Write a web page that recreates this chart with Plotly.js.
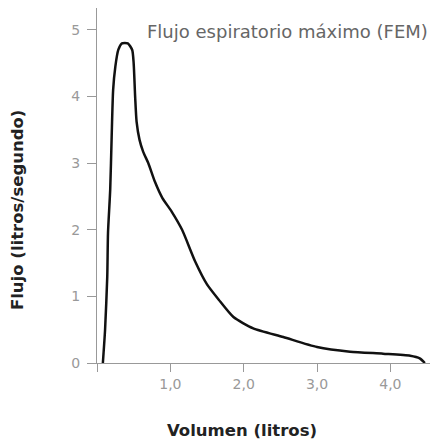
<!DOCTYPE html>
<html>
<head>
<meta charset="utf-8">
<script src="https://cdn.plot.ly/plotly-3.0.1.min.js"></script>
<style>html,body{margin:0;padding:0;background:#fff;}#chart{width:434px;height:443px;}</style>
</head>
<body>
<div id="chart"></div>
<script>
var volumen = [0.08, 0.11, 0.14, 0.15, 0.18, 0.20, 0.22, 0.25, 0.29, 0.34, 0.42, 0.48, 0.50, 0.52, 0.54, 0.58, 0.63, 0.70, 0.79, 0.89, 1.02, 1.16, 1.34, 1.50, 1.66, 1.86, 2.13, 2.54, 3.00, 3.45, 3.90, 4.27, 4.40, 4.47];
var flujo   = [0.00, 0.50, 1.30, 1.95, 2.60, 3.40, 4.10, 4.45, 4.70, 4.80, 4.80, 4.70, 4.50, 4.00, 3.62, 3.35, 3.17, 3.00, 2.72, 2.48, 2.27, 2.00, 1.52, 1.18, 0.95, 0.69, 0.52, 0.39, 0.24, 0.17, 0.14, 0.11, 0.07, 0.00];
var xTickVals = [0, 1, 2, 3, 4];
var xTickText = ['', '1,0', '2,0', '3,0', '4,0'];
var yTickVals = [0, 1, 2, 3, 4, 5];
var yTickText = ['0', '1', '2', '3', '4', '5'];
var tituloGrafico = 'Flujo espiratorio máximo (FEM)';
var tituloX = 'Volumen (litros)';
var tituloY = 'Flujo (litros/segundo)';

var font = '"DejaVu Sans", Arial, sans-serif';
var trace = {
  x: volumen, y: flujo, mode: 'lines', type: 'scatter',
  line: {color: '#111', width: 2.5, shape: 'spline', smoothing: 0.6},
  hoverinfo: 'none'
};
var layout = {
  width: 434, height: 443,
  margin: {l: 97, r: 4, t: 8, b: 80},
  paper_bgcolor: '#fff', plot_bgcolor: '#fff',
  showlegend: false,
  xaxis: {
    range: [0, 4.54], showgrid: false, zeroline: false,
    showline: true, linecolor: '#999', linewidth: 1,
    ticks: 'outside', ticklen: 8, tickcolor: '#999', tickwidth: 1,
    tickvals: xTickVals, ticktext: xTickText,
    tickfont: {family: font, size: 14, color: '#999'}
  },
  yaxis: {
    range: [0, 5.33], showgrid: false, zeroline: false,
    showline: true, linecolor: '#999', linewidth: 1,
    ticks: 'outside', ticklen: 9, tickcolor: '#999', tickwidth: 1,
    tickvals: yTickVals, ticktext: yTickText, ticklabelstandoff: 4,
    tickfont: {family: font, size: 14, color: '#999'}
  },
  annotations: [
    {text: tituloGrafico, xref: 'paper', yref: 'paper', x: 0.144, y: 0.935,
     xanchor: 'left', yanchor: 'middle', showarrow: false,
     font: {family: font, size: 18, color: '#666'}},
    {text: '<b>' + tituloX + '</b>', xref: 'paper', yref: 'paper', x: 0.435, y: -0.19,
     xanchor: 'center', yanchor: 'middle', showarrow: false,
     font: {family: font, size: 16.5, color: '#222'}},
    {text: '<b>' + tituloY + '</b>', xref: 'paper', yref: 'paper', x: -0.237, y: 0.431,
     xanchor: 'center', yanchor: 'middle', showarrow: false, textangle: -90,
     font: {family: font, size: 16.5, color: '#222'}}
  ]
};
Plotly.newPlot('chart', [trace], layout, {staticPlot: true, displayModeBar: false});
</script>
</body>
</html>
